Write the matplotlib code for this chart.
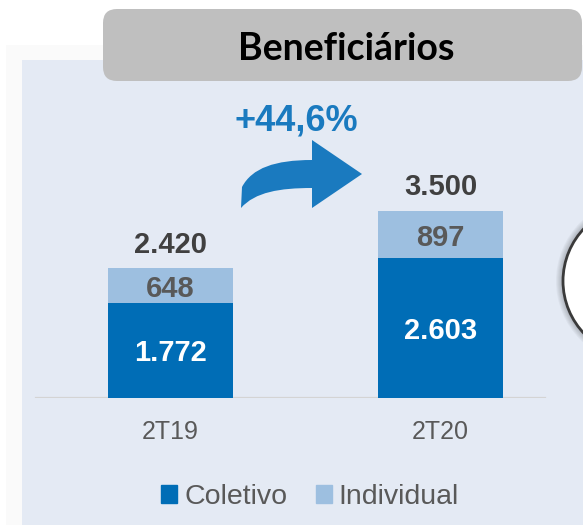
import numpy as np
import matplotlib
matplotlib.use("Agg")
import matplotlib.pyplot as plt
from matplotlib.patches import Rectangle, FancyBboxPatch, Circle, PathPatch
from matplotlib.path import Path

# data
categories = ["2T19", "2T20"]
coletivo = [1772, 2603]
individual = [648, 897]
totals = [2420, 3500]
total_labels = ["2.420", "3.500"]
coletivo_labels = ["1.772", "2.603"]
individual_labels = ["648", "897"]
growth_label = "+44,6%"
title = "Beneficiários"

C_COL = "#006db6"
C_IND = "#9dbfe0"
C_PANEL = "#e4eaf4"
C_TXT = "#595959"
C_BLUE = "#1a7abf"

W, H = 583, 525
fig = plt.figure(figsize=(W / 100, H / 100), dpi=100)
plt.rcParams["font.family"] = ["Liberation Sans", "DejaVu Sans"]

# background / decoration layer in pixel coordinates
bg = fig.add_axes([0, 0, 1, 1], zorder=0)
bg.set_xlim(0, W)
bg.set_ylim(H, 0)
bg.axis("off")
bg.add_patch(Rectangle((6, 45), W - 6, H - 45, facecolor="#fafafa", edgecolor="none"))
bg.add_patch(Rectangle((22, 60), W - 22, H - 60, facecolor=C_PANEL, edgecolor="none"))
bg.add_patch(FancyBboxPatch((103, 9), 479, 72, boxstyle="round,pad=0,rounding_size=14",
                            facecolor="#bfbfbf", edgecolor="none"))
bg.text(346, 46, title, ha="center", va="center_baseline", fontsize=27, fontweight="bold",
        family=["Lato", "DejaVu Sans"], color="black")

# growth label and curved arrow
bg.text(296, 117, growth_label, ha="center", va="center_baseline", fontsize=26,
        fontweight="bold", color=C_BLUE)
verts = [(242, 187), (252, 168), (275, 160), (312, 160),
         (312, 140), (362, 174), (312, 208), (312, 188),
         (280, 188), (255, 192), (241, 208), (242, 187)]
codes = [Path.MOVETO, Path.CURVE4, Path.CURVE4, Path.CURVE4,
         Path.LINETO, Path.LINETO, Path.LINETO, Path.LINETO,
         Path.CURVE4, Path.CURVE4, Path.CURVE4, Path.CLOSEPOLY]
bg.add_patch(PathPatch(Path(verts, codes), facecolor=C_BLUE, edgecolor="none"))

# partially visible circle on the right, with a soft shadow
for k in range(7, 0, -1):
    bg.add_patch(Circle((639, 281), 76 + k, facecolor="black", edgecolor="none", alpha=0.035))
bg.add_patch(Circle((639, 281), 76, facecolor="white", edgecolor="#3a3a3a", lw=2))

# bar chart layer
px_per_unit = 0.0534
base_px = 397.5
ymax = 5000
ax = fig.add_axes([0, (H - base_px) / H, 1, ymax * px_per_unit / H], zorder=1)
ax.patch.set_alpha(0)
ax.set_xlim(-170.5 / 270, (W - 170.5) / 270)
ax.set_ylim(0, ymax)
for s in ax.spines.values():
    s.set_visible(False)
ax.set_yticks([])

x = np.arange(len(categories))
bw = 125 / 270
ax.axhline(0, xmin=36 / W, xmax=545 / W, color="#d4d4d4", lw=1.6, zorder=1)
ax.bar(x, coletivo, bw, color=C_COL, zorder=2, label="Coletivo")
ax.bar(x, individual, bw, bottom=coletivo, color=C_IND, zorder=2, label="Individual")

for i in range(len(categories)):
    ax.text(x[i], coletivo[i] / 2, coletivo_labels[i], ha="center", va="center_baseline",
            fontsize=21, fontweight="bold", color="white", zorder=3)
    ax.text(x[i], coletivo[i] + individual[i] / 2, individual_labels[i], ha="center",
            va="center_baseline", fontsize=21, fontweight="bold", color=C_TXT, zorder=3)
    ax.annotate(total_labels[i], (x[i], totals[i]), xytext=(0, 19),
                textcoords="offset points", ha="center", va="center_baseline",
                fontsize=21, fontweight="bold", color="#404040", zorder=3)

ax.set_xticks(x, categories)
ax.tick_params(axis="x", length=0, pad=16, labelsize=18, labelcolor=C_TXT)

handles = [Rectangle((0, 0), 1, 1, color=C_COL), Rectangle((0, 0), 1, 1, color=C_IND)]
fig.legend(handles, ["Coletivo", "Individual"], loc="center",
           bbox_to_anchor=(310 / W, 1 - 497 / H), ncol=2, frameon=False,
           fontsize=20.5, labelcolor=C_TXT, handlelength=0.56, handleheight=0.56,
           handletextpad=0.25, columnspacing=1.0, borderpad=0)

fig.savefig("out.png", dpi=100)
